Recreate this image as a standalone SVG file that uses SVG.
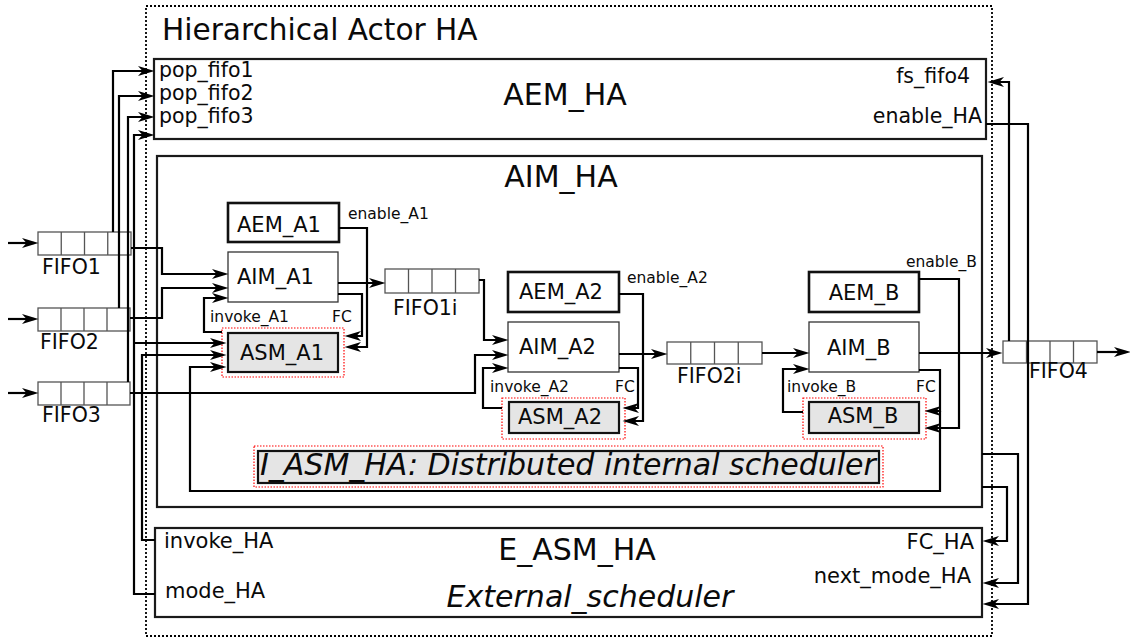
<svg xmlns="http://www.w3.org/2000/svg" width="1130" height="639" viewBox="0 0 1130 639">
<defs>
<marker id="ah" viewBox="-14 -6 20 12" markerWidth="20" markerHeight="12" refX="0" refY="0" orient="auto" markerUnits="userSpaceOnUse">
<path d="M4.5,0 L-12,-5 L-7.5,0 L-12,5 Z" fill="#000"/>
</marker>
<style>
text{font-family:"DejaVu Sans","Liberation Sans",sans-serif;fill:#0a0a0a}
.big{font-size:30px}
.mid{font-size:21px}
.pop{font-size:20.5px}
.sm{font-size:15.5px}
.it{font-style:italic}
.hbox{fill:#fff;stroke:#1a1a1a;stroke-width:2.2}
.aem{fill:#fff;stroke:#111;stroke-width:2.6}
.aim{fill:#fff;stroke:#333;stroke-width:1.3}
.asm{fill:#e5e5e5;stroke:#111;stroke-width:2.2}
.red{fill:none;stroke:#f00;stroke-width:1.2;stroke-dasharray:1.5 1.5}
.fifo{fill:#fff;stroke:#555;stroke-width:1.3}
.w{fill:none;stroke:#000;stroke-width:2.2}
.a{marker-end:url(#ah)}
</style>
</defs>
<rect width="1130" height="639" fill="#fff"/>

<g id="HA">
<rect x="146" y="6" width="846" height="630" fill="none" stroke="#000" stroke-width="1.8" stroke-dasharray="2 2"/>
<text x="162" y="40" style="font-size:29.6px">Hierarchical Actor HA</text>
</g>

<g id="AEM_HA">
<rect class="hbox" x="154" y="59" width="832" height="80"/>
<text class="big" x="565" y="105" text-anchor="middle">AEM_HA</text>
<text class="pop" x="159" y="77">pop_fifo1</text>
<text class="pop" x="159" y="100">pop_fifo2</text>
<text class="pop" x="159" y="123">pop_fifo3</text>
<text class="pop" x="970" y="83" text-anchor="end">fs_fifo4</text>
<text class="pop" x="982" y="123" text-anchor="end">enable_HA</text>
</g>

<g id="AIM_HA">
<rect class="hbox" x="157" y="156" width="825" height="351"/>
<text class="big" x="561" y="187" text-anchor="middle">AIM_HA</text>
</g>

<g id="E_ASM_HA">
<rect class="hbox" x="155" y="528" width="827" height="89"/>
<text class="big" x="577" y="560" text-anchor="middle">E_ASM_HA</text>
<text class="big it" x="590" y="607" text-anchor="middle">External_scheduler</text>
<text class="mid" x="164" y="548">invoke_HA</text>
<text class="mid" x="165" y="598">mode_HA</text>
<text class="mid" x="974" y="549" text-anchor="end">FC_HA</text>
<text class="mid" x="971" y="583" text-anchor="end">next_mode_HA</text>
</g>

<g id="FIFO1">
<rect class="fifo" x="38" y="232" width="93" height="23"/>
<path class="fifo" d="M61.25,232V255M84.5,232V255M107.75,232V255"/>
<text class="pop" x="42" y="274">FIFO1</text>
</g>
<g id="FIFO2">
<rect class="fifo" x="38" y="308" width="92" height="23"/>
<path class="fifo" d="M61,308V331M84,308V331M107,308V331"/>
<text class="pop" x="40" y="349">FIFO2</text>
</g>
<g id="FIFO3">
<rect class="fifo" x="38" y="382" width="92" height="23"/>
<path class="fifo" d="M61,382V405M84,382V405M107,382V405"/>
<text class="pop" x="42" y="422">FIFO3</text>
</g>
<g id="FIFO1i">
<rect class="fifo" x="385" y="269" width="94" height="24"/>
<path class="fifo" d="M408.5,269V293M432,269V293M455.5,269V293"/>
<text class="pop" x="393" y="315">FIFO1i</text>
</g>
<g id="FIFO2i">
<rect class="fifo" x="667" y="342" width="95" height="22"/>
<path class="fifo" d="M690.75,342V364M714.5,342V364M738.25,342V364"/>
<text class="pop" x="677" y="383">FIFO2i</text>
</g>
<g id="FIFO4">
<rect class="fifo" x="1003" y="341" width="94" height="22"/>
<path class="fifo" d="M1026.5,341V363M1050,341V363M1073.5,341V363"/>
<text class="pop" x="1029" y="378">FIFO4</text>
</g>

<g id="AEM_A1">
<rect class="aem" x="228" y="203" width="111" height="39"/>
<text class="mid" x="237" y="232">AEM_A1</text>
</g>
<g id="AIM_A1">
<rect class="aim" x="228" y="252" width="110" height="50"/>
<text class="mid" x="237" y="284">AIM_A1</text>
</g>
<g id="ASM_A1">
<rect class="red" x="222" y="328" width="122" height="49"/>
<rect class="asm" x="228" y="333" width="110" height="39"/>
<text class="mid" x="282" y="360" text-anchor="middle">ASM_A1</text>
</g>

<g id="AEM_A2">
<rect class="aem" x="508" y="272" width="111" height="40"/>
<text class="mid" x="519" y="299">AEM_A2</text>
</g>
<g id="AIM_A2">
<rect class="aim" x="508" y="322" width="111" height="50"/>
<text class="mid" x="519" y="354">AIM_A2</text>
</g>
<g id="ASM_A2">
<rect class="red" x="502" y="398" width="123" height="41"/>
<rect class="asm" x="509" y="402" width="110" height="31"/>
<text class="mid" x="560" y="424" text-anchor="middle">ASM_A2</text>
</g>

<g id="AEM_B">
<rect class="aem" x="809" y="272" width="110" height="40"/>
<text class="mid" x="864" y="300" text-anchor="middle">AEM_B</text>
</g>
<g id="AIM_B">
<rect class="aim" x="809" y="322" width="110" height="50"/>
<text class="mid" x="827" y="355">AIM_B</text>
</g>
<g id="ASM_B">
<rect class="red" x="803" y="398" width="123" height="41"/>
<rect class="asm" x="809" y="402" width="110" height="31"/>
<text class="mid" x="863" y="423" text-anchor="middle">ASM_B</text>
</g>

<g id="I_ASM_HA">
<rect class="red" x="254" y="446" width="629" height="41"/>
<rect class="asm" x="258" y="451" width="621" height="32"/>
<text class="big it" x="260" y="475">I_ASM_HA: Distributed internal scheduler</text>
</g>

<g id="connectors">
<path class="w a" d="M8,243H34"/>
<path class="w a" d="M8,319H34"/>
<path class="w a" d="M8,393H34"/>
<path class="w a" d="M113,232V71H150"/>
<path class="w a" d="M119,308V96H150"/>
<path class="w a" d="M128,382V117H150"/>
<path class="w a" d="M155,594H134V135H150"/>
<path class="w a" d="M134,343H222"/>
<path class="w a" d="M155,540H142V355H222"/>
<path class="w a" d="M131,248H162V274H224"/>
<path class="w a" d="M130,318H162V288H224"/>
<path class="w a" d="M222,332H204V298H224"/>
<path class="w a" d="M338,294H362V336H349"/>
<path class="w a" d="M339,228H367V347H349"/>
<path class="w a" d="M338,283H381"/>
<path class="w a" d="M479,280H484V340H504"/>
<path class="w a" d="M130,393H475V355H504"/>
<path class="w a" d="M502,408H483V368H504"/>
<path class="w a" d="M619,368H638V408H627"/>
<path class="w a" d="M619,294H643V421H627"/>
<path class="w a" d="M619,354H663"/>
<path class="w a" d="M762,353H805"/>
<path class="w a" d="M803,412H783V369H805"/>
<path class="w a" d="M919,370H940V411H929"/>
<path class="w a" d="M940,411V491H190V367H222"/>
<path class="w a" d="M919,279H959V428H929"/>
<path class="w a" d="M919,353H998"/>
<path class="w a" d="M1097,352H1126"/>
<path class="w a" d="M1009,341V82H992"/>
<path class="w a" d="M986,124H1028V604H987"/>
<path class="w a" d="M982,454H1018V583H987"/>
<path class="w a" d="M982,487H1007V541H987"/>
</g>

<g id="labels">
<text class="sm" x="348" y="219">enable_A1</text>
<text class="sm" x="210" y="322">invoke_A1</text>
<text class="sm" x="332" y="322">FC</text>
<text class="sm" x="627" y="283">enable_A2</text>
<text class="sm" x="490" y="392">invoke_A2</text>
<text class="sm" x="615" y="392">FC</text>
<text class="sm" x="906" y="267">enable_B</text>
<text class="sm" x="787" y="392">invoke_B</text>
<text class="sm" x="916" y="392">FC</text>
</g>
</svg>
